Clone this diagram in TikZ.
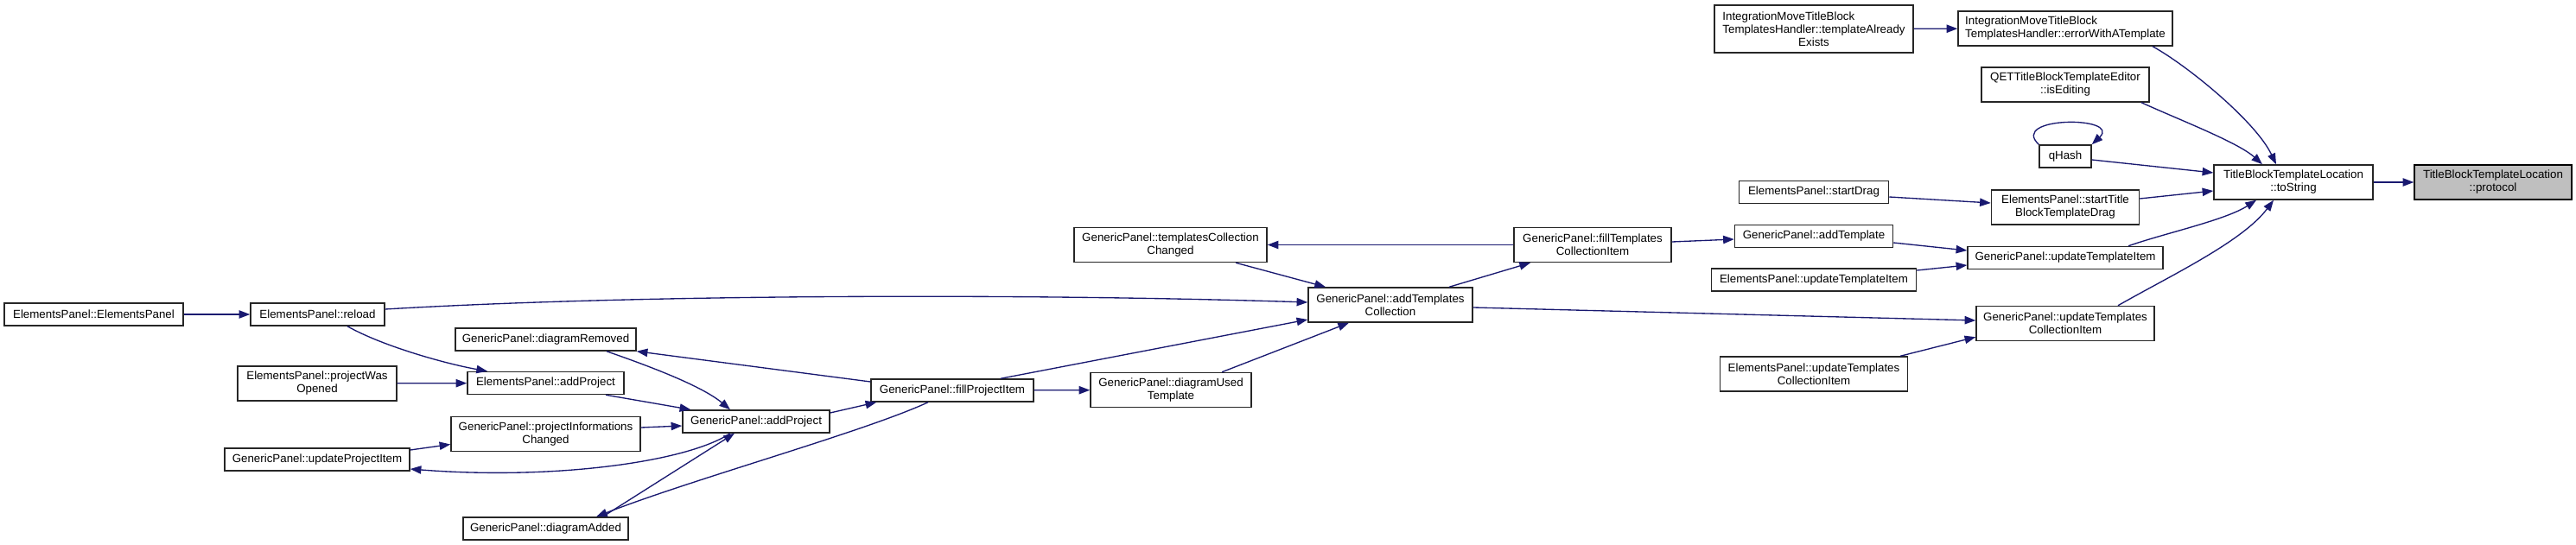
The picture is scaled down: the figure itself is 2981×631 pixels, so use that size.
\documentclass[tikz,border=0pt]{standalone}
\usepackage{fontspec}
\setmainfont{Liberation Sans}
\usepackage{xcolor}
\usetikzlibrary{calc, arrows.meta}

\definecolor{edgeblue}{HTML}{191970}
\definecolor{focusgray}{HTML}{BFBFBF}

\newlength{\linew}
\newcommand{\padleft}[2]{\settowidth{\linew}{#2}\makebox[\linew][l]{#1}}

\begin{document}
\begin{tikzpicture}[x=0.75pt, y=-0.75pt,
		fn/.style={draw=black!85, line width=1.1pt, fill=white, align=center, inner sep=2pt, font=\fontsize{10}{11.2}\selectfont},
		call/.style={draw=edgeblue, line width=1pt, -{Triangle[length=9.5pt, width=7pt]}}]
					\def\px{0.75pt};
					
					\useasboundingbox (0,0) rectangle (2981,631);
					
					\begin{scope}
						\node [fn, fill=focusgray, draw=black, minimum width=182*\px, minimum height=40*\px] (protocol) at (2885,211) {TitleBlockTemplateLocation\\::protocol};
						\node [fn, minimum width=184*\px, minimum height=40*\px] (toString) at (2654,211) {TitleBlockTemplateLocation\\::toString};
						
						\node [fn, minimum width=248*\px, minimum height=40*\px] (errorTemplate) at (2390,33) {\padleft{IntegrationMoveTitleBlock}{TemplatesHandler::errorWithATemplate}\\TemplatesHandler::errorWithATemplate};
						\node [fn, minimum width=230*\px, minimum height=55*\px] (alreadyExists) at (2099,33.5) {\padleft{IntegrationMoveTitleBlock}{TemplatesHandler::templateAlready}\\TemplatesHandler::templateAlready\\Exists};
						\node [fn, minimum width=194*\px, minimum height=40*\px] (isEditing) at (2390,98) {QETTitleBlockTemplateEditor\\::isEditing};
						\node [fn, minimum width=60*\px, minimum height=26*\px] (qHash) at (2390,181) {qHash};
						\node [fn, minimum width=171*\px, minimum height=40*\px] (startTitleDrag) at (2390,240) {ElementsPanel::startTitle\\BlockTemplateDrag};
						\node [fn, minimum width=173*\px, minimum height=26*\px] (startDrag) at (2099,222.5) {ElementsPanel::startDrag};
						\node [fn, minimum width=226*\px, minimum height=26*\px] (gpUpdTemplate) at (2390,298.5) {GenericPanel::updateTemplateItem};
						\node [fn, minimum width=183*\px, minimum height=26*\px] (gpAddTemplate) at (2099,273.5) {GenericPanel::addTemplate};
						\node [fn, minimum width=237*\px, minimum height=26*\px] (epUpdTemplate) at (2099,324) {ElementsPanel::updateTemplateItem};
						\node [fn, minimum width=206*\px, minimum height=40*\px] (gpUpdCollection) at (2390,374.5) {GenericPanel::updateTemplates\\CollectionItem};
						\node [fn, minimum width=217*\px, minimum height=40*\px] (epUpdCollection) at (2099,433) {ElementsPanel::updateTemplates\\CollectionItem};
						
						\node [fn, minimum width=182*\px, minimum height=40*\px] (fillCollection) at (1843,283.5) {GenericPanel::fillTemplates\\CollectionItem};
						\node [fn, minimum width=223*\px, minimum height=40*\px] (collChanged) at (1354.5,283.5) {GenericPanel::templatesCollection\\Changed};
						\node [fn, minimum width=190*\px, minimum height=40*\px] (addCollection) at (1609,353) {GenericPanel::addTemplates\\Collection};
						\node [fn, minimum width=186*\px, minimum height=40*\px] (usedTemplate) at (1355,451.5) {GenericPanel::diagramUsed\\Template};
						\node [fn, minimum width=188*\px, minimum height=26*\px] (fillProject) at (1102,452) {GenericPanel::fillProjectItem};
						
						\node [fn, minimum width=170*\px, minimum height=26*\px] (gpAddProject) at (875,488) {GenericPanel::addProject};
						\node [fn, minimum width=209*\px, minimum height=26*\px] (diagRemoved) at (631.5,393) {GenericPanel::diagramRemoved};
						\node [fn, minimum width=181*\px, minimum height=26*\px] (epAddProject) at (631.5,443.5) {ElementsPanel::addProject};
						\node [fn, minimum width=219*\px, minimum height=40*\px] (infoChanged) at (631.5,502.5) {GenericPanel::projectInformations\\Changed};
						\node [fn, minimum width=191*\px, minimum height=26*\px] (diagAdded) at (631.5,612) {GenericPanel::diagramAdded};
						
						\node [fn, minimum width=155*\px, minimum height=26*\px] (reload) at (367.5,364) {ElementsPanel::reload};
						\node [fn, minimum width=184*\px, minimum height=40*\px] (projOpened) at (367,444) {ElementsPanel::projectWas\\Opened};
						\node [fn, minimum width=214*\px, minimum height=26*\px] (updProject) at (367,532) {GenericPanel::updateProjectItem};
						\node [fn, minimum width=207*\px, minimum height=26*\px] (elemPanel) at (108.5,364) {ElementsPanel::ElementsPanel};
					\end{scope}
					
					\begin{scope}[every path/.style={call}]
						\draw (toString) -- (protocol);
						\draw ($(errorTemplate.south)+(101,0)$) .. controls (2530,75) and (2610,140) .. ($(toString.north)+(-20,0)$);
						\draw (alreadyExists) -- (errorTemplate);
						\draw ($(isEditing.south)+(88,0)$) .. controls (2525,140) and (2590,165) .. ($(toString.north)+(-36,0)$);
						\draw ($(qHash.east)+(0,4)$) -- ($(toString.west)+(0,-11)$);
						\draw (qHash.north west) .. controls +(-35,-33) and +(35,-33) .. (qHash.north east);
						\draw ($(startTitleDrag.east)+(0,-10)$) -- ($(toString.west)+(0,10)$);
						\draw ($(startDrag.east)+(0,5.5)$) -- ($(startTitleDrag.west)+(0,-5)$);
						\draw ($(gpUpdTemplate.north)+(73,0)$) .. controls (2505,270) and (2575,255) .. ($(toString.south)+(-43,0)$);
						\draw ($(gpAddTemplate.east)+(0,7.5)$) -- ($(gpUpdTemplate.west)+(0,-8.5)$);
						\draw ($(epUpdTemplate.east)+(0,-11)$) -- ($(gpUpdTemplate.west)+(0,8.5)$);
						\draw ($(gpUpdCollection.north)+(61,0)$) .. controls (2510,320) and (2595,280) .. ($(toString.south)+(-23,0)$);
						\draw ($(epUpdCollection.north)+(100,0)$) -- ($(gpUpdCollection.south west)+(0,-5)$);
						
						\draw ($(addCollection.east)+(0,3)$) -- ($(gpUpdCollection.west)+(0,-3.5)$);
						\draw ($(fillCollection.east)+(0,-3.5)$) -- ($(gpAddTemplate.west)+(0,3.5)$);
						\draw ($(addCollection.north)+(68,0)$) -- ($(fillCollection.south)+(-72,0)$);
						\draw (fillCollection) -- (collChanged);
						\draw ($(collChanged.south)+(75.5,0)$) -- ($(addCollection.north)+(-75,0)$);
						\draw ($(reload.east)+(0,-6)$) .. controls (750,340) and (1200,340) .. ($(addCollection.west)+(0,-3)$);
						\draw ($(fillProject.north)+(56,0)$) -- ($(addCollection.west)+(0,17)$);
						\draw ($(usedTemplate.north)+(59,0)$) -- ($(addCollection.south)+(-48,0)$);
						\draw (fillProject) -- (usedTemplate);
						
						\draw ($(gpAddProject.east)+(0,-10)$) -- ($(fillProject.south west)+(7,0)$);
						\draw ($(fillProject.west)+(0,-10)$) -- (diagRemoved.south east);
						\draw ($(diagRemoved.south)+(70.5,0)$) .. controls (740,420) and (810,445) .. ($(gpAddProject.north)+(-30,0)$);
						\draw ($(epAddProject.south)+(69.5,0)$) -- ($(gpAddProject.north west)+(10,0)$);
						\draw ($(reload.south)+(34.5,0)$) .. controls (445,402) and (520,422) .. ($(epAddProject.north)+(-67.5,0)$);
						\draw (projOpened) -- (epAddProject);
						\draw ($(infoChanged.east)+(0,-7.5)$) -- ($(gpAddProject.west)+(0,5)$);
						\draw ($(updProject.east)+(0,-11)$) -- ($(infoChanged.west)+(0,12)$);
						\draw ($(gpAddProject.south)+(-30,0)$) .. controls (795,535) and (640,556) .. ($(updProject.east)+(0,11)$);
						\draw ($(fillProject.south)+(-28,0)$) .. controls (1000,500) and (800,555) .. ($(diagAdded.north)+(58.5,0)$);
						\draw ($(diagAdded.north)+(66,0)$) -- ($(gpAddProject.south)+(-25,0)$);
						\draw (elemPanel) -- (reload);
					\end{scope}
				\end{tikzpicture}
\end{document}
